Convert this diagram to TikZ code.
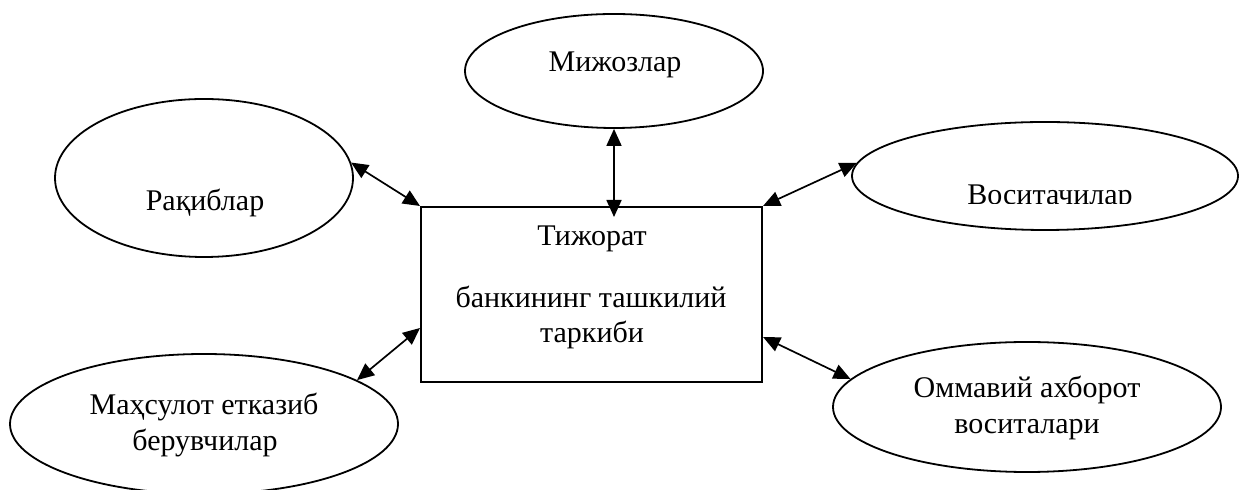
\documentclass[tikz,border=0pt]{standalone}
\usepackage{fontspec}
\setmainfont{Liberation Serif}
\usetikzlibrary{arrows.meta,calc,shapes.geometric}
\begin{document}
\begin{tikzpicture}[x=0.5pt,y=-0.5pt,
  oval/.style={draw,line width=0.9pt,ellipse,inner sep=0pt},
  mainbox/.style={draw,line width=1pt,rectangle,inner sep=0pt,minimum width=170.5pt,minimum height=87.5pt},
  lbl/.style={anchor=base,inner sep=0pt,font=\fontsize{15pt}{18pt}\selectfont},
  link/.style={line width=0.85pt,{Triangle[length=8.5pt,width=7.5pt]}-{Triangle[length=8.5pt,width=7.5pt]}}]
\useasboundingbox (0,0) rectangle (1240,490);
% shapes
\node[mainbox] (box) at (591.5,294.5) {};
\node[oval,minimum width=149pt,minimum height=57pt] (miz) at (614,71) {};
\node[oval,minimum width=149pt,minimum height=79pt] (rak) at (204,178) {};
\node[oval,minimum width=193pt,minimum height=54pt] (vos) at (1045,176) {};
\node[oval,minimum width=194pt,minimum height=70pt] (mah) at (204,424) {};
\node[oval,minimum width=194pt,minimum height=65pt] (omm) at (1027,407) {};
% texts
\node[lbl] (tmiz) at (615,72) {Мижозлар};
\node[lbl] (trak) at (205,211) {Рақиблар};
\begin{scope}
\clip (830,100) rectangle (1240,204);
\node[lbl] (tvos) at (1050,205) {Воситачилар};
\end{scope}
\node[lbl] (tmah1) at (204,415) {Маҳсулот етказиб};
\node[lbl] (tmah2) at (205,451) {берувчилар};
\node[lbl] (tomm1) at (1027,398) {Оммавий ахборот};
\node[lbl] (tomm2) at (1027,434) {воситалари};
\node[lbl] (tbox1) at (592,246) {Тижорат};
\node[lbl] (tbox2) at (591,308) {банкининг ташкилий};
\node[lbl] (tbox3) at (592,343) {таркиби};
% connectors
\coordinate (boxtop) at ($(miz.south |- box.north)+(0,11)$);
\coordinate (boxwl) at ($(box.west)+(0,33.5)$);
\coordinate (boxel) at ($(box.east)+(0,42.5)$);
\draw[link] (miz.south) -- (boxtop);
\draw[link] (rak.6) -- (box.north west);
\draw[link] (box.north east) -- (vos.176);
\draw[link] (mah.16) -- (boxwl);
\draw[link] (boxel) -- (omm.171);
\end{tikzpicture}
\end{document}
